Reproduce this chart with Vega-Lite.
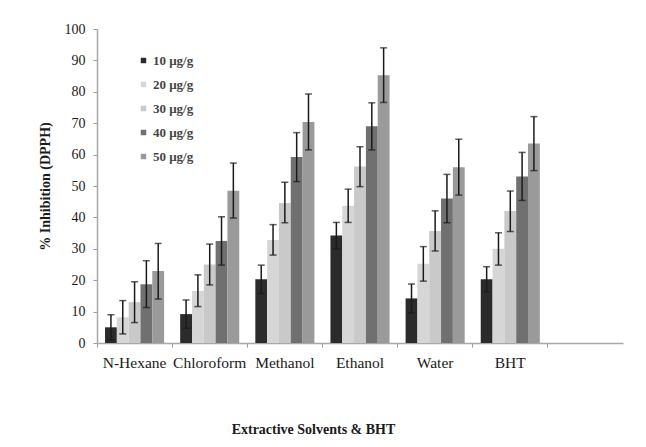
{
  "$schema": "https://vega.github.io/schema/vega-lite/v6.json",
  "autosize": {"type": "none"},
  "width": 526,
  "height": 314,
  "padding": {"left": 97, "top": 29, "right": 23, "bottom": 104},
  "background": "white",
  "config": {
    "view": {"stroke": null},
    "font": "Liberation Serif",
    "axisY": {"tickCount": 11, "labelOverlap": false}
  },
  "data": {
    "values": [
      {"solvent": "N-Hexane", "conc": "10 μg/g", "value": 5.0, "lo": 1.0, "hi": 9.0},
      {"solvent": "N-Hexane", "conc": "20 μg/g", "value": 8.2, "lo": 2.9, "hi": 13.5},
      {"solvent": "N-Hexane", "conc": "30 μg/g", "value": 13.0, "lo": 6.5, "hi": 19.5},
      {"solvent": "N-Hexane", "conc": "40 μg/g", "value": 18.7, "lo": 11.3, "hi": 26.2},
      {"solvent": "N-Hexane", "conc": "50 μg/g", "value": 22.9, "lo": 14.0, "hi": 31.7},
      {"solvent": "Chloroform", "conc": "10 μg/g", "value": 9.2, "lo": 4.7, "hi": 13.7},
      {"solvent": "Chloroform", "conc": "20 μg/g", "value": 16.6, "lo": 11.6, "hi": 21.7},
      {"solvent": "Chloroform", "conc": "30 μg/g", "value": 25.0, "lo": 18.5, "hi": 31.5},
      {"solvent": "Chloroform", "conc": "40 μg/g", "value": 32.5, "lo": 24.8, "hi": 40.2},
      {"solvent": "Chloroform", "conc": "50 μg/g", "value": 48.5, "lo": 39.8, "hi": 57.3},
      {"solvent": "Methanol", "conc": "10 μg/g", "value": 20.3, "lo": 15.8, "hi": 24.8},
      {"solvent": "Methanol", "conc": "20 μg/g", "value": 32.8, "lo": 28.0, "hi": 37.7},
      {"solvent": "Methanol", "conc": "30 μg/g", "value": 44.6, "lo": 38.3, "hi": 51.2},
      {"solvent": "Methanol", "conc": "40 μg/g", "value": 59.2, "lo": 51.4, "hi": 67.0},
      {"solvent": "Methanol", "conc": "50 μg/g", "value": 70.4, "lo": 61.5, "hi": 79.3},
      {"solvent": "Ethanol", "conc": "10 μg/g", "value": 34.2, "lo": 30.0, "hi": 38.4},
      {"solvent": "Ethanol", "conc": "20 μg/g", "value": 43.7, "lo": 38.4, "hi": 49.0},
      {"solvent": "Ethanol", "conc": "30 μg/g", "value": 56.2, "lo": 49.8, "hi": 62.5},
      {"solvent": "Ethanol", "conc": "40 μg/g", "value": 69.0, "lo": 61.5, "hi": 76.5},
      {"solvent": "Ethanol", "conc": "50 μg/g", "value": 85.3, "lo": 76.6, "hi": 94.0},
      {"solvent": "Water", "conc": "10 μg/g", "value": 14.2, "lo": 9.6, "hi": 18.8},
      {"solvent": "Water", "conc": "20 μg/g", "value": 25.2, "lo": 19.7, "hi": 30.7},
      {"solvent": "Water", "conc": "30 μg/g", "value": 35.7, "lo": 29.3, "hi": 42.1},
      {"solvent": "Water", "conc": "40 μg/g", "value": 46.0, "lo": 38.3, "hi": 53.7},
      {"solvent": "Water", "conc": "50 μg/g", "value": 56.0, "lo": 47.1, "hi": 64.9},
      {"solvent": "BHT", "conc": "10 μg/g", "value": 20.3, "lo": 16.3, "hi": 24.3},
      {"solvent": "BHT", "conc": "20 μg/g", "value": 30.0, "lo": 24.8, "hi": 35.1},
      {"solvent": "BHT", "conc": "30 μg/g", "value": 42.0, "lo": 35.5, "hi": 48.4},
      {"solvent": "BHT", "conc": "40 μg/g", "value": 53.0, "lo": 45.4, "hi": 60.7},
      {"solvent": "BHT", "conc": "50 μg/g", "value": 63.5, "lo": 54.9, "hi": 72.1}
    ]
  },
  "encoding": {
    "x": {
      "field": "solvent",
      "type": "nominal",
      "sort": null,
      "scale": {
        "domain": ["N-Hexane", "Chloroform", "Methanol", "Ethanol", "Water", "BHT", " "],
        "paddingInner": 0,
        "paddingOuter": 0
      },
      "axis": {
        "title": "Extractive Solvents & BHT",
        "labelAngle": 0,
        "bandPosition": 0,
        "labelBound": false,
        "labelOverlap": false,
        "labelFontSize": 15.5,
        "labelColor": "#1a1a1a",
        "labelPadding": 8,
        "tickSize": 4,
        "tickColor": "#999999",
        "domainColor": "#a8a8a8",
        "domainWidth": 1.5,
        "titleFontSize": 14,
        "titleFontWeight": "bold",
        "titleColor": "#1a1a1a",
        "titlePadding": 52,
        "titleX": 216,
        "titleAlign": "center",
        "titleAnchor": "start"
      }
    },
    "xOffset": {
      "field": "conc",
      "type": "nominal",
      "scale": {"paddingInner": 0, "paddingOuter": 0.68}
    }
  },
  "layer": [
    {
      "mark": {"type": "bar"},
      "encoding": {
        "y": {
          "field": "value",
          "type": "quantitative",
          "scale": {"domain": [0, 100], "nice": false},
          "axis": {
            "title": "% Inhibition (DPPH)",
            "tickCount": 11,
            "labelOverlap": false,
            "grid": false,
            "labelFontSize": 14,
            "labelColor": "#1a1a1a",
            "labelPadding": 8,
            "tickSize": 4,
            "tickColor": "#999999",
            "domainColor": "#a8a8a8",
            "domainWidth": 1.5,
            "titleFontSize": 14,
            "titleFontWeight": "bold",
            "titleColor": "#1a1a1a",
            "titlePadding": 12
          }
        },
        "color": {
          "field": "conc",
          "type": "nominal",
          "scale": {
            "domain": ["10 μg/g", "20 μg/g", "30 μg/g", "40 μg/g", "50 μg/g"],
            "range": ["#2b2b2b", "#d6d6d6", "#c9c9c9", "#707070", "#9a9a9a"]
          },
          "legend": {
            "title": null,
            "orient": "none",
            "legendX": 40,
            "legendY": 25,
            "symbolType": "square",
            "symbolSize": 30,
            "symbolStrokeWidth": 0,
            "labelFontSize": 13,
            "labelFontWeight": "bold",
            "labelColor": "#444444",
            "labelOffset": 3,
            "rowPadding": 10
          }
        }
      }
    },
    {
      "mark": {"type": "rule", "color": "#1a1a1a", "strokeWidth": 1.5},
      "encoding": {
        "y": {"field": "lo", "type": "quantitative"},
        "y2": {"field": "hi"}
      }
    },
    {
      "mark": {"type": "tick", "color": "#1a1a1a", "thickness": 1.5, "size": 7},
      "encoding": {
        "y": {"field": "hi", "type": "quantitative"}
      }
    },
    {
      "mark": {"type": "tick", "color": "#1a1a1a", "thickness": 1.5, "size": 7},
      "encoding": {
        "y": {"field": "lo", "type": "quantitative"}
      }
    }
  ]
}
